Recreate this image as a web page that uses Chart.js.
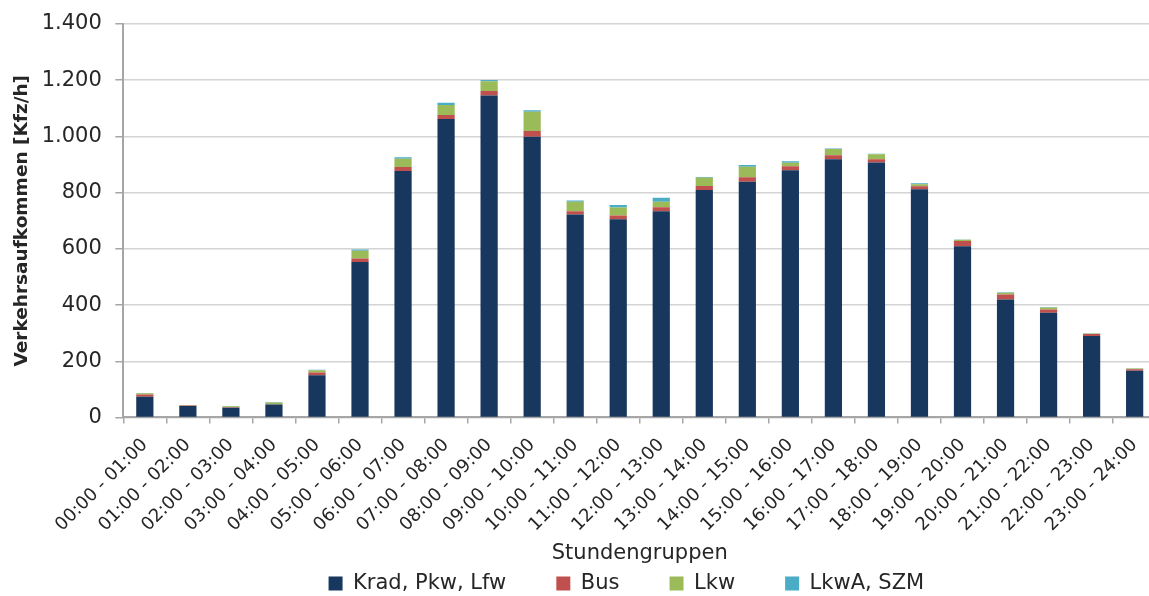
<!DOCTYPE html>
<html lang="de">
<head>
<meta charset="utf-8">
<title>Verkehrsaufkommen nach Stundengruppen</title>
<script src="https://cdn.jsdelivr.net/npm/chart.js@4.4.1/dist/chart.umd.min.js"></script>
<style>
  html, body { margin: 0; padding: 0; background: #fff; overflow: hidden; }
  #chart-wrap { width: 1161px; height: 596px; }
</style>
</head>
<body>
<div id="chart-wrap"><canvas id="traffic-chart"></canvas></div>
<script>
// ===============================
// DATA
// ===============================

const hourGroups = [
  "00:00 - 01:00", "01:00 - 02:00", "02:00 - 03:00", "03:00 - 04:00",
  "04:00 - 05:00", "05:00 - 06:00", "06:00 - 07:00", "07:00 - 08:00",
  "08:00 - 09:00", "09:00 - 10:00", "10:00 - 11:00", "11:00 - 12:00",
  "12:00 - 13:00", "13:00 - 14:00", "14:00 - 15:00", "15:00 - 16:00",
  "16:00 - 17:00", "17:00 - 18:00", "18:00 - 19:00", "19:00 - 20:00",
  "20:00 - 21:00", "21:00 - 22:00", "22:00 - 23:00", "23:00 - 24:00"
];

const kradPkwLfw = [74, 41, 35, 46, 150, 553, 877, 1062, 1146, 999, 722, 705,
                    734, 809, 839, 880, 919, 907, 812, 609, 420, 373, 290, 166];
const bus        = [8, 2, 1, 1, 10, 13, 14, 14, 16, 20, 12, 14,
                    14, 15, 16, 14, 14, 12, 11, 19, 18, 11, 7, 6];
const lkw        = [4, 1, 4, 6, 8, 27, 30, 36, 34, 69, 34, 28,
                    20, 29, 37, 12, 22, 18, 7, 4, 6, 7, 2, 2];
const lkwASzm    = [1, 0, 1, 2, 2, 5, 5, 8, 5, 5, 4, 9,
                    14, 3, 6, 6, 2, 1, 3, 1, 2, 2, 1, 1];

const yMax = 1400;
const yStep = 200;

// ===============================
// STYLE
// ===============================

const textColor = "#262626";
const axisGray = "#a6a6a6";
const gridGray = "#d4d4d4";

// extra spaces after each legend text, gives the wide gaps of the original
const legendGap = [6, 6, 6, 4];

Chart.defaults.font.family = "'DejaVu Sans', sans-serif";
Chart.defaults.color = textColor;

// ===============================
// CHART
// ===============================

function makeSet(label, data, color) {
  return {
    label,
    data,
    backgroundColor: color,
    borderWidth: 0,
    categoryPercentage: 0.4,
    barPercentage: 1.0
  };
}

new Chart(document.getElementById("traffic-chart"), {
  type: "bar",
  data: {
    labels: hourGroups,
    datasets: [
      makeSet("Krad, Pkw, Lfw", kradPkwLfw, "#17375E"),
      makeSet("Bus", bus, "#C0504D"),
      makeSet("Lkw", lkw, "#9BBB59"),
      makeSet("LkwA, SZM", lkwASzm, "#4BACC6")
    ]
  },
  options: {
    responsive: true,
    maintainAspectRatio: false,
    animation: false,
    locale: "de-DE",
    layout: { padding: { top: 24, right: 4, bottom: -8, left: 0 } },
    plugins: {
      tooltip: { enabled: false },
      legend: {
        position: "bottom",
        fullSize: false,
        labels: {
          boxWidth: 14,
          boxHeight: 14,
          padding: 10,
          color: textColor,
          font: { size: 21 },
          generateLabels(chart) {
            const items = Chart.defaults.plugins.legend.labels.generateLabels(chart);
            items.forEach((item, i) => { item.text += " ".repeat(legendGap[i]); });
            return items;
          }
        }
      }
    },
    scales: {
      x: {
        stacked: true,
        grid: {
          display: true,
          drawOnChartArea: false,
          color: axisGray,
          lineWidth: 1.5,
          tickLength: 6
        },
        border: { color: axisGray, width: 2 },
        ticks: {
          autoSkip: false,
          minRotation: 45,
          maxRotation: 45,
          padding: 11,
          color: textColor,
          font: { size: 18 }
        },
        title: {
          display: true,
          text: "Stundengruppen",
          color: textColor,
          font: { size: 21 },
          padding: { top: -6, bottom: -3 }
        }
      },
      y: {
        stacked: true,
        min: 0,
        max: yMax,
        grid: {
          color: gridGray,
          lineWidth: 1.5,
          tickColor: axisGray,
          tickLength: 8
        },
        border: { color: axisGray, width: 2 },
        ticks: {
          stepSize: yStep,
          padding: 13.5,
          color: textColor,
          font: { size: 21, lineHeight: 1 }
        },
        title: {
          display: true,
          text: "Verkehrsaufkommen [Kfz/h]",
          color: textColor,
          font: { size: 18.5, weight: "bold" },
          padding: { top: 11, bottom: -5 }
        }
      }
    }
  }
});
</script>
</body>
</html>
